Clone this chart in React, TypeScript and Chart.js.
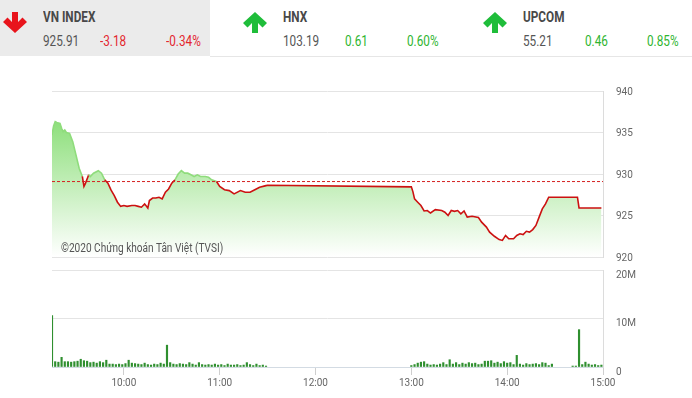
import React, { useEffect, useRef } from "react";
import { Chart, registerables } from "chart.js";
Chart.register(...registerables);

// ---------- header data ----------
const indexNames = ["VN INDEX", "HNX", "UPCOM"];
const indexValues = ["925.91", "103.19", "55.21"];
const indexChanges = ["-3.18", "0.61", "0.46"];
const indexPercents = ["-0.34%", "0.60%", "0.85%"];
const indexUp = [false, true, true];

// ---------- price data ----------
const referenceValue = 929.09;
const priceTicks = [920, 925, 930, 935, 940];
const priceTimes = [
  "09:15", "09:16", "09:17", "09:18", "09:20", "09:21", "09:22", "09:23", "09:24", "09:26",
  "09:28", "09:30", "09:32", "09:34", "09:35", "09:36", "09:38", "09:39", "09:41", "09:44",
  "09:46", "09:48", "09:50", "09:52", "09:54", "09:56", "09:58", "10:00", "10:02", "10:05",
  "10:07", "10:09", "10:11", "10:13", "10:15", "10:16", "10:18", "10:20", "10:22", "10:24",
  "10:26", "10:28", "10:30", "10:32", "10:34", "10:36", "10:38", "10:40", "10:42", "10:44",
  "10:46", "10:48", "10:51", "10:53", "10:55", "10:58", "11:00", "11:03", "11:06", "11:09",
  "11:13", "11:16", "11:19", "11:22", "11:25", "11:29", "11:30",
  "13:00", "13:01", "13:02", "13:04", "13:06", "13:08", "13:10", "13:12", "13:15", "13:19",
  "13:21", "13:23", "13:25", "13:27", "13:29", "13:31", "13:33", "13:35", "13:38", "13:42",
  "13:44", "13:47", "13:49", "13:52", "13:55", "13:57", "13:59", "14:01", "14:04", "14:06",
  "14:08", "14:10", "14:12", "14:14", "14:16", "14:18", "14:20", "14:22", "14:24", "14:26",
  "14:29", "14:44", "14:45", "14:59",
];
const priceValues = [
  934.7, 935.8, 936.3, 936.2, 936.1, 935.5, 935.1, 935.3, 935.0, 934.9,
  933.9, 932.3, 930.7, 929.7, 928.5, 928.9, 929.9, 929.7, 930.1, 930.4,
  930.1, 929.3, 928.9, 928.05, 927.4, 926.6, 926.1, 926.2, 926.1, 926.2,
  926.2, 926.1, 926.0, 926.4, 925.9, 926.8, 927.1, 927.1, 927.2, 927.0,
  927.8, 928.2, 928.9, 929.3, 930.0, 930.4, 930.1, 930.1, 929.9, 929.7,
  929.9, 929.7, 929.7, 929.6, 929.3, 929.1, 928.5, 928.1, 928.0, 927.6,
  928.0, 927.8, 927.8, 928.1, 928.4, 928.6, 928.65,
  928.45, 927.85, 927.0, 926.6, 926.2, 925.55, 925.6, 925.3, 925.7, 925.6,
  925.4, 925.0, 925.6, 925.5, 925.6, 925.2, 925.55, 924.8, 924.9, 924.75,
  924.2, 923.6, 923.0, 922.5, 922.1, 922.0, 922.6, 922.2, 922.2, 922.6,
  922.8, 922.7, 923.1, 923.0, 923.3, 923.8, 924.8, 925.8, 926.4, 927.2,
  927.2, 927.2, 925.91, 925.91,
];

// ---------- volume data (millions) ----------
const volumeTicks = [0, 10, 20];
const morningVolumeStart = "09:15"; // one bar every 2 minutes
const morningVolumes = [
  10.6, 1.1, 1.0, 2.0, 1.1, 1.1, 1.0, 1.1, 1.2, 1.6,
  1.3, 1.2, 0.9, 1.0, 0.8, 1.1, 0.9, 1.4, 0.6, 0.6,
  0.5, 0.6, 0.5, 0.7, 1.4, 0.8, 0.7, 0.6, 0.5, 0.8,
  0.5, 0.4, 0.6, 0.5, 0.8, 0.6, 4.5, 0.9, 0.6, 0.5,
  0.7, 0.6, 0.5, 0.9, 0.6, 0.4, 0.9, 0.5, 0.4, 0.5,
  0.4, 0.6, 0.4, 0.5, 0.3, 0.6, 0.4, 0.4, 0.5, 0.3,
  0.4, 0.9, 0.5, 0.3, 0.6, 0.3, 0.4, 0.2,
];
const afternoonVolumeStart = "13:00"; // one bar every 2 minutes
const afternoonVolumes = [
  0.3, 0.5, 0.8, 1.0, 1.1, 0.6, 0.4, 0.5, 0.4, 0.6,
  0.9, 0.5, 1.5, 0.6, 0.9, 0.5, 0.8, 0.6, 0.9, 0.7,
  0.8, 0.5, 0.6, 1.2, 1.2, 1.3, 0.8, 1.0, 0.7, 1.1,
  0.8, 0.9, 0.5, 2.4, 0.6, 0.4, 0.7, 0.5, 0.6, 0.7,
  0.5, 0.9, 0.8, 0.3, 0.6,
];
const closingVolumeTimes = ["14:41", "14:43", "14:45", "14:47", "14:49", "14:51", "14:53", "14:55", "14:57", "14:59"];
const closingVolumes = [0.2, 0.2, 7.7, 0.5, 1.0, 0.6, 0.4, 0.5, 0.3, 0.4];

const hourTicks = ["10:00", "11:00", "12:00", "13:00", "14:00", "15:00"];
const axisStart = "09:15";
const axisEnd = "15:00";

const toMin = (s: string) => {
  const [h, m] = s.split(":").map(Number);
  return h * 60 + m;
};
const fmtMin = (v: number) => {
  const h = Math.floor(v / 60);
  const m = Math.round(v % 60);
  return `${h}:${m < 10 ? "0" + m : m}`;
};

const FONT = "Roboto, 'Noto Sans', sans-serif";
const RED = "#e3262e";
const GREEN = "#2fb52f";

function Arrow({ up, color, x, y }: { up: boolean; color: string; x: number; y: number }) {
  const d = "M12 0 L24 11 L19.5 15.5 L15 11 L15 21 L9 21 L9 11 L4.5 15.5 L0 11 Z";
  return (
    <svg style={{ position: "absolute", left: x, top: y }} width={24} height={21} viewBox="0 0 24 21">
      <path d={d} fill={color} transform={up ? undefined : "rotate(180 12 10.5)"} />
    </svg>
  );
}

function NarrowText({ x, top, size, color, bold, children }: any) {
  return (
    <div
      style={{
        position: "absolute",
        left: x,
        top,
        fontSize: size,
        lineHeight: `${size}px`,
        fontWeight: bold ? "bold" : "normal",
        color,
        whiteSpace: "nowrap",
        transform: "scaleX(0.84)",
        transformOrigin: "0 0",
      }}
    >
      {children}
    </div>
  );
}

export default function App() {
  const priceRef = useRef<HTMLCanvasElement>(null);
  const volRef = useRef<HTMLCanvasElement>(null);

  useEffect(() => {
    const xMin = toMin(axisStart);
    const xMax = toMin(axisEnd);
    const pricePoints = priceTimes.map((t, i) => ({ x: toMin(t), y: priceValues[i] }));

    const tickFont = { family: FONT, size: 10 };

    const pc = new Chart(priceRef.current!, {
      type: "line",
      data: {
        datasets: [
          {
            data: [
              { x: xMin, y: referenceValue },
              { x: xMax, y: referenceValue },
            ],
            borderColor: "#d42020",
            borderWidth: 1,
            borderDash: [3, 2],
            pointRadius: 0,
            fill: false,
          },
          {
            data: pricePoints,
            borderWidth: 1.6,
            pointRadius: 0,
            tension: 0,
            fill: false,
            borderColor: "#cc1111",
            segment: {
              borderColor: (s: any) =>
                s.p0.parsed.y >= referenceValue && s.p1.parsed.y >= referenceValue ? "#8fdc7c" : "#cc1111",
            },
          },
          {
            data: pricePoints,
            borderWidth: 0,
            pointRadius: 0,
            tension: 0,
            fill: "start",
            backgroundColor: (c: any) => {
              const a = c.chart.chartArea;
              if (!a) return "rgba(0,0,0,0)";
              const g = c.chart.ctx.createLinearGradient(0, a.top, 0, a.bottom);
              g.addColorStop(0, "#74d85e");
              g.addColorStop(1, "#ffffff");
              return g;
            },
          },
        ],
      },
      options: {
        animation: false,
        responsive: false,
        layout: { padding: { left: 52, top: 11, bottom: 13, right: 0 } },
        plugins: { legend: { display: false }, tooltip: { enabled: false } },
        scales: {
          x: { type: "linear", min: xMin, max: xMax, display: false },
          y: {
            position: "right",
            min: priceTicks[0],
            max: priceTicks[priceTicks.length - 1],
            afterBuildTicks: (axis: any) => {
              axis.ticks = priceTicks.map((v) => ({ value: v }));
            },
            afterFit: (s: any) => {
              s.width = 89;
            },
            ticks: { font: tickFont, color: "#666", padding: 0, labelOffset: 1, callback: (v: any) => String(v) },
            grid: { color: "#e4e4e4", drawTicks: true, tickLength: 13, tickColor: "rgba(0,0,0,0)" },
            border: { color: "#dcdcdc" },
          },
        },
      },
    } as any);

    const volPoints: { x: number; y: number }[] = [];
    morningVolumes.forEach((v, i) => volPoints.push({ x: toMin(morningVolumeStart) + i * 2, y: v }));
    afternoonVolumes.forEach((v, i) => volPoints.push({ x: toMin(afternoonVolumeStart) + i * 2, y: v }));
    closingVolumeTimes.forEach((t, i) => volPoints.push({ x: toMin(t), y: closingVolumes[i] }));

    const vc = new Chart(volRef.current!, {
      type: "bar",
      data: {
        datasets: [
          {
            data: volPoints,
            backgroundColor: "#2f8f2f",
            barThickness: 1.5,
            grouped: false,
          },
        ],
      },
      options: {
        animation: false,
        responsive: false,
        layout: { padding: { left: 52, top: 10, bottom: 0, right: 0 } },
        plugins: { legend: { display: false }, tooltip: { enabled: false } },
        scales: {
          x: {
            type: "linear",
            min: xMin,
            max: xMax,
            offset: false,
            afterBuildTicks: (axis: any) => {
              axis.ticks = hourTicks.map((t) => ({ value: toMin(t) }));
            },
            afterFit: (s: any) => {
              s.height = 31;
            },
            ticks: { font: tickFont, color: "#666", padding: 2, maxRotation: 0, autoSkip: false, callback: (v: any) => fmtMin(Number(v)) },
            grid: { drawOnChartArea: false, tickLength: 8, color: "#cfcfcf", offset: false },
            border: { color: "#d3dbe3" },
          },
          y: {
            position: "right",
            min: 0,
            max: 20,
            afterBuildTicks: (axis: any) => {
              axis.ticks = volumeTicks.map((v) => ({ value: v }));
            },
            afterFit: (s: any) => {
              s.width = 89;
            },
            ticks: {
              font: tickFont,
              color: "#666",
              padding: 0,
              labelOffset: 5,
              callback: (v: any) => (Number(v) === 0 ? "0" : `${v}M`),
            },
            grid: { color: "#e4e4e4", drawTicks: true, tickLength: 13, tickColor: "rgba(0,0,0,0)" },
            border: { color: "#dcdcdc" },
          },
        },
      },
    } as any);

    return () => {
      pc.destroy();
      vc.destroy();
    };
  }, []);

  const blockX = [43, 283, 523];
  const arrowX = [3, 243, 483];
  const changeDx = [57, 62, 62];
  const pctDx = [123, 124, 124];

  return (
    <div
      style={{
        position: "absolute",
        left: 0,
        top: 0,
        width: 692,
        height: 398,
        overflow: "hidden",
        background: "#ffffff",
        fontFamily: FONT,
      }}
    >
      <div style={{ position: "absolute", left: 0, top: 0, width: 210, height: 56, background: "#ebebeb" }} />
      <div style={{ position: "absolute", left: 210, top: 56, width: 482, height: 1, background: "#e6e6e6" }} />
      {indexNames.map((name, i) => {
        const color = indexUp[i] ? GREEN : RED;
        return (
          <React.Fragment key={name}>
            <Arrow up={indexUp[i]} color={indexUp[i] ? "#1fbd3a" : "#e8141c"} x={arrowX[i]} y={12} />
            <NarrowText x={blockX[i]} top={10} size={14} color="#484848" bold>
              {name}
            </NarrowText>
            <NarrowText x={blockX[i]} top={34} size={14} color="#555">
              {indexValues[i]}
            </NarrowText>
            <NarrowText x={blockX[i] + changeDx[i]} top={34} size={14} color={color}>
              {indexChanges[i]}
            </NarrowText>
            <NarrowText x={blockX[i] + pctDx[i]} top={34} size={14} color={color}>
              {indexPercents[i]}
            </NarrowText>
          </React.Fragment>
        );
      })}
      <canvas ref={priceRef} width={692} height={190} style={{ position: "absolute", left: 0, top: 80, width: 692, height: 190 }} />
      <canvas ref={volRef} width={692} height={138} style={{ position: "absolute", left: 0, top: 260, width: 692, height: 138 }} />
      <NarrowText x={61} top={242} size={12} color="#555">
        ©2020 Chứng khoán Tân Việt (TVSI)
      </NarrowText>
    </div>
  );
}
